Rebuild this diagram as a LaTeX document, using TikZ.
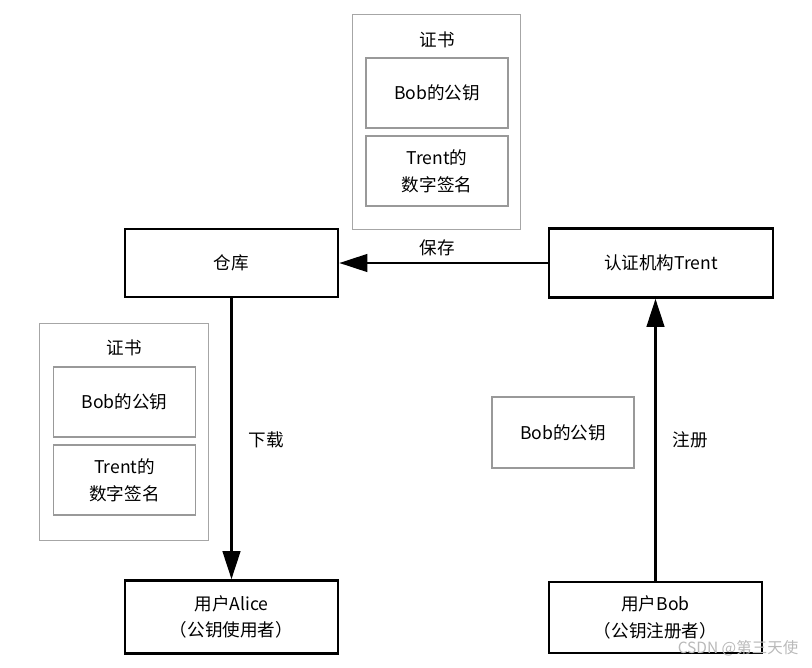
\documentclass[tikz,border=0pt]{standalone}
\usepackage{fontspec}
\setmainfont{Noto Sans CJK SC}
\usetikzlibrary{arrows.meta,positioning,calc}

\begin{document}
\begin{tikzpicture}[
  x=0.025cm, y=-0.025cm,
  party/.style={draw, line width=1.8pt, align=center, minimum width=5.325cm, minimum height=1.75cm, font=\fontsize{12.5}{19}\selectfont},
  cert/.style={draw=gray!70, line width=0.7pt, minimum width=4.2cm, minimum height=5.35cm},
  part/.style={draw=gray!80, line width=0.8pt, align=center, minimum width=3.55cm, minimum height=1.75cm, font=\fontsize{12.5}{19}\selectfont},
  label/.style={align=center, font=\fontsize{12.5}{15}\selectfont},
  arr/.style={-{Triangle[length=7mm,width=4.4mm]}, line width=1.7pt}
]
\useasboundingbox (0,0) rectangle (812,667);

% certificate stored in the repository
\node[cert] (certtop) at (436.5,122) {};
\node[label] (certtoptitle) at (437,40) {证书};
\node[part] (topkey) at (437,93) {Bob的公钥};
\node[part] (topsig) at (437,171) {Trent的\\数字签名};

% certificate downloaded by Alice
\node[cert, minimum height=5.4cm] (certleft) at (124,432) {};
\node[label] (certlefttitle) at (124,348) {证书};
\node[part] (leftkey) at (124.5,402) {Bob的公钥};
\node[part] (leftsig) at (124.5,480) {Trent的\\数字签名};

\node[party, minimum height=1.7cm] (store) at (231.5,263) {仓库};
\node[party, minimum width=5.6cm, minimum height=1.725cm] (trent) at (661,263) {认证机构Trent};
\node[party, minimum height=1.825cm] (alice) at (231.5,617) {用户Alice\\（公钥使用者）};
\node[party, minimum height=1.775cm] (bob) at (655.5,617.5) {用户Bob\\（公钥注册者）};

\node[part, minimum height=1.775cm] (bobkey) at (563,432.5) {Bob的公钥};

\draw[arr] (trent.west) -- (store.east);
\draw[arr] (store.south) -- (alice.north);
\draw[arr] (bob.north) -- (bob.north |- trent.south);

\node[label] (save) at (437,248) {保存};
\node[label] (down) at (266,440) {下载};
\node[label] (reg) at (690,440) {注册};

\node[font=\fontsize{11}{12}\selectfont, text=gray!55] (mark) at (738,648) {CSDN @第三天使};

\end{tikzpicture}
\end{document}
